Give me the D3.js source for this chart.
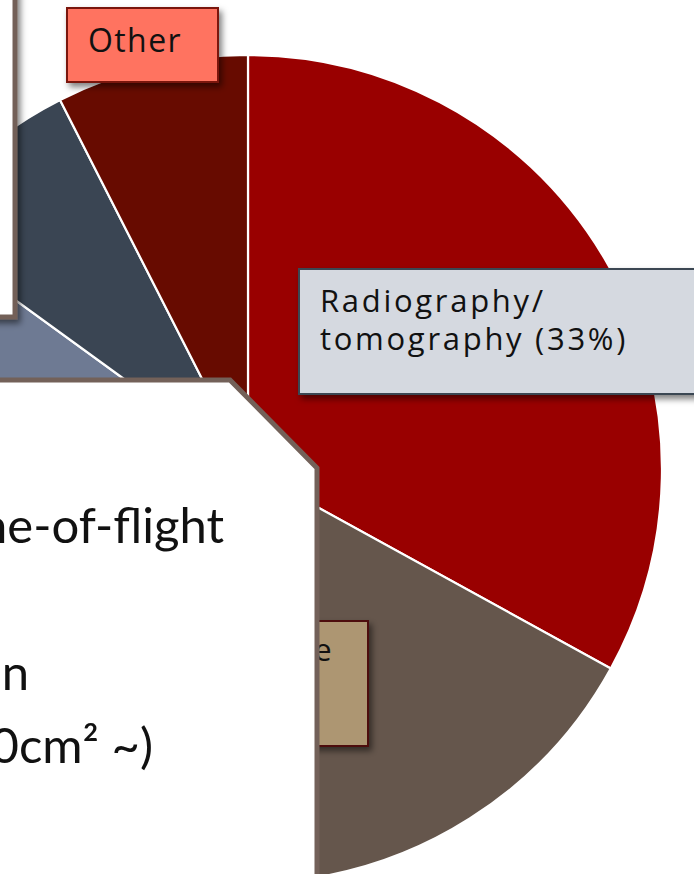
<!DOCTYPE html>
<html>
<head>
<meta charset="utf-8">
<script src="https://cdn.jsdelivr.net/npm/d3@7"></script>
<style>
  html, body { margin: 0; padding: 0; background: #ffffff; overflow: hidden; }
  svg { display: block; }
</style>
</head>
<body>
<svg id="chart" width="694" height="874"></svg>
<script>
// Share of neutron imaging applications (clockwise from 12 o'clock)
const categories = [
  "Radiography/tomography",
  "Bragg edge imaging",
  "Diffraction",
  "Polarized neutron",
  "Material analysis",
  "Dynamic imaging",
  "Other"
];
const shares = [33, 16, 14, 12, 10, 7.5, 7.5];
const sliceColors = ["#990000", "#65564c", "#8c7f6e", "#a8b0bf", "#6e7a93", "#3a4553", "#670b00"];

// Callout labels shown on the chart
const labelLines = {
  "Radiography/tomography": ["Radiography/", "tomography (33%)"],
  "Bragg edge imaging": ["Bragg edge", "imaging", "(16%)"],
  "Other": ["Other"]
};

// Text of the panel laid over the chart
const panelLines = ["Time-of-flight", "High spatial resolution", "Large area (100cm\u00B2 ~)"];

const svg = d3.select("#chart");
const cx = 248, cy = 469, R = 414;

const defs = svg.append("defs");
const shadow = defs.append("filter").attr("id", "shadow")
  .attr("x", "-20%").attr("y", "-20%").attr("width", "150%").attr("height", "160%");
shadow.append("feDropShadow").attr("dx", 3).attr("dy", 4)
  .attr("stdDeviation", 3).attr("flood-color", "#000").attr("flood-opacity", 0.5);

const color = d3.scaleOrdinal().domain(categories).range(sliceColors);

const pie = d3.pie().sort(null).value(d => d.value);
const arcs = pie(categories.map((c, i) => ({ name: c, value: shares[i] })));
const arc = d3.arc().innerRadius(0).outerRadius(R);

const g = svg.append("g").attr("transform", `translate(${cx},${cy})`);
g.selectAll("path.slice")
  .data(arcs)
  .join("path")
  .attr("class", "slice")
  .attr("d", arc)
  .attr("fill", d => color(d.data.name))
  .attr("stroke", "#ffffff")
  .attr("stroke-width", 2.2)
  .attr("stroke-linejoin", "round");

// Callout boxes; `fit` is the width the widest line is spread to
const labelStyle = {
  "Other": { x: 67, y: 8, w: 151, h: 74, fill: "#ff7361", stroke: "#7a1710",
             tx: [88], ty: 52, anchor: "start", size: 32, fit: 94 },
  "Radiography/tomography": { x: 299, y: 269, w: 420, h: 125, fill: "#d5d9e0", stroke: "#3b4653",
             tx: [320, 320], ty: 312, anchor: "start", size: 31, fit: 308 },
  "Bragg edge imaging": { x: 132, y: 621, w: 236, h: 125, fill: "#ad9672", stroke: "#4e0d0d",
             tx: [333, 290, 290], ty: 661, anchor: "end", size: 31, fit: null }
};
const lineGap = 38;
let spreadRef = 0;

function spread(textSel, target) {
  const nodes = textSel.selectAll("tspan").nodes();
  let widest = nodes[0];
  nodes.forEach(n => { if (n.getComputedTextLength() > widest.getComputedTextLength()) widest = n; });
  const len = widest.getComputedTextLength();
  const n = widest.textContent.length;
  const ls = Math.max(0, (target - len) / n);
  textSel.attr("letter-spacing", ls);
  return ls;
}

["Radiography/tomography", "Other", "Bragg edge imaging"].forEach(name => {
  const s = labelStyle[name];
  const lg = svg.append("g").attr("class", "callout");
  lg.append("rect")
    .attr("x", s.x).attr("y", s.y).attr("width", s.w).attr("height", s.h)
    .attr("fill", s.fill).attr("stroke", s.stroke).attr("stroke-width", 2)
    .attr("filter", "url(#shadow)");
  const t = lg.append("text")
    .attr("font-family", "'Open Sans', 'DejaVu Sans', sans-serif")
    .attr("font-weight", 400)
    .attr("font-size", s.size)
    .attr("fill", "#111111")
    .attr("text-anchor", s.anchor);
  t.selectAll("tspan")
    .data(labelLines[name])
    .join("tspan")
    .attr("x", (d, i) => s.tx[i])
    .attr("y", (d, i) => s.ty + i * lineGap)
    .text(d => d);
  if (s.fit) spreadRef = spread(t, s.fit);
  else t.attr("letter-spacing", spreadRef);
});

// Panels laid over the chart
const border = "#736159";
svg.append("rect")
  .attr("x", -30).attr("y", -30).attr("width", 45).attr("height", 347)
  .attr("fill", "#ffffff").attr("stroke", border).attr("stroke-width", 5)
  .attr("filter", "url(#shadow)");

svg.append("path")
  .attr("d", "M -30 380 L 230 380 L 317 468 L 317 900 L -30 900 Z")
  .attr("fill", "#ffffff").attr("stroke", border).attr("stroke-width", 5)
  .attr("stroke-linejoin", "miter");

const panelPos = [{ x: 224, y: 543 }, { x: 29, y: 690 }, { x: 153, y: 763 }];
svg.append("g")
  .attr("font-family", "Lato, 'DejaVu Sans', sans-serif")
  .attr("font-size", 49)
  .attr("fill", "#111111")
  .attr("text-anchor", "end")
  .selectAll("text")
  .data(panelLines)
  .join("text")
  .attr("x", (d, i) => panelPos[i].x)
  .attr("y", (d, i) => panelPos[i].y)
  .text(d => d);
</script>
</body>
</html>
